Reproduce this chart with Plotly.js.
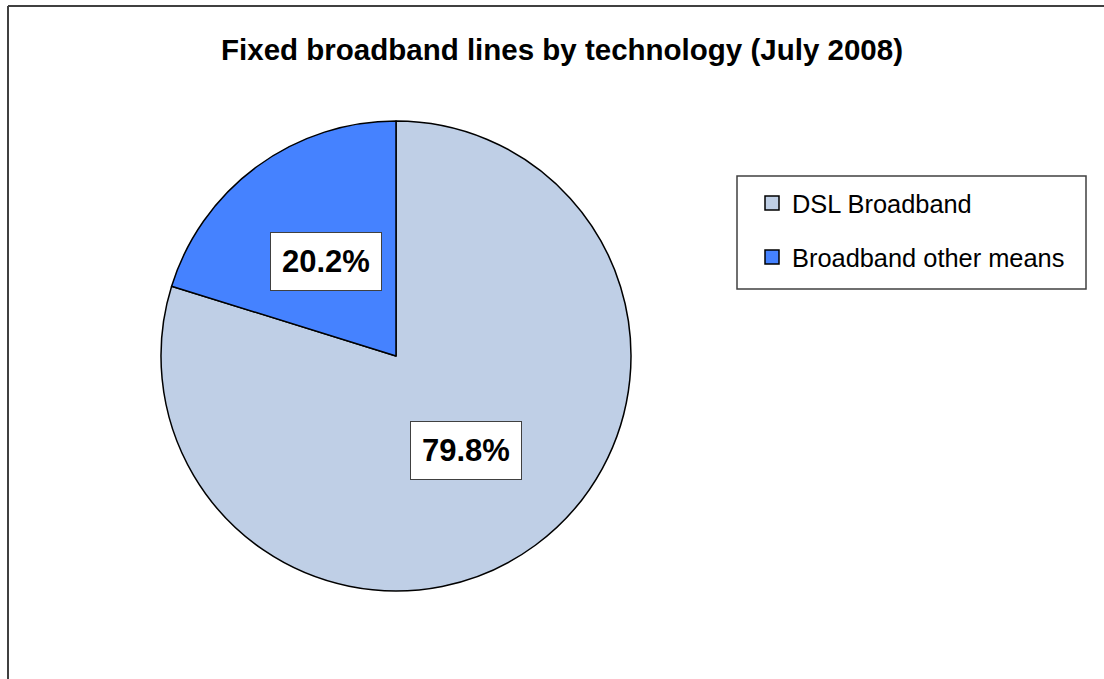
<!DOCTYPE html>
<html>
<head>
<meta charset="utf-8">
<script src="https://cdn.plot.ly/plotly-3.0.1.min.js"></script>
<style>
  html, body { margin: 0; padding: 0; background: #ffffff; }
  #chart { width: 1104px; height: 679px; }
</style>
</head>
<body>
<div id="chart"></div>
<script>
// ---- data ----
const labels = ["DSL Broadband", "Broadband other means"];
const values = [79.8, 20.2];
const sliceColors = ["#BFCFE6", "#4582FF"];
const chartTitle = "Fixed broadband lines by technology (July 2008)";

// ---- layout constants (pixels) ----
const W = 1104, H = 679;
const cx = 396, cy = 356, R = 235;   // pie centre and radius in page pixels
const FONT = "Liberation Sans, Arial, Helvetica, sans-serif";

const total = values.reduce((a, b) => a + b, 0);

// percentage labels at half radius on each slice bisector (clockwise from 12 o'clock)
const annotations = [];
let cum = 0;
values.forEach((v, i) => {
  const mid = (cum + v / 2) / total * 2 * Math.PI;
  cum += v;
  const px = cx + 0.5 * R * Math.sin(mid);
  const py = cy - 0.5 * R * Math.cos(mid);
  annotations.push({
    x: px / W, y: 1 - py / H, xref: "paper", yref: "paper",
    xanchor: "center", yanchor: "middle", showarrow: false,
    text: (v / total * 100).toFixed(1) + "%",
    font: { family: FONT, size: 31, color: "#000000", weight: "bold" },
    bgcolor: "#ffffff", bordercolor: "#404040", borderwidth: 1, borderpad: 11
  });
});

const pieTrace = {
  type: "pie",
  labels: labels,
  values: values,
  sort: false,
  direction: "clockwise",
  rotation: 0,
  textinfo: "none",
  hoverinfo: "label+percent",
  showlegend: false,
  marker: { colors: sliceColors, line: { color: "#000000", width: 1.5 } },
  domain: { x: [(cx - R) / W, (cx + R) / W], y: [1 - (cy + R) / H, 1 - (cy - R) / H] }
};

// legend entries (one per slice, same names and colours as the pie)
const legendTraces = labels.map((lab, i) => ({
  type: "scatter", mode: "markers",
  x: [null], y: [null],
  name: lab, legendgroup: "g" + i, showlegend: true,
  hoverinfo: "skip",
  marker: { symbol: "square", size: 14, color: sliceColors[i], line: { color: "#000000", width: 1.5 } }
}));

const layout = {
  width: W, height: H,
  margin: { l: 0, r: 0, t: 0, b: 0 },
  paper_bgcolor: "#ffffff",
  plot_bgcolor: "rgba(0,0,0,0)",
  font: { family: FONT, color: "#000000" },
  xaxis: { visible: false, showgrid: false, zeroline: false },
  yaxis: { visible: false, showgrid: false, zeroline: false },
  title: {
    text: chartTitle,
    font: { family: FONT, size: 29.5, weight: "bold", color: "#000000" },
    x: 562 / W, xanchor: "center", xref: "paper",
    y: 1 - 50 / H, yanchor: "middle", yref: "paper"
  },
  showlegend: true,
  legend: {
    x: 752 / W, xanchor: "left", y: 1 - 180 / H, yanchor: "top",
    bgcolor: "rgba(0,0,0,0)", borderwidth: 0,
    font: { family: FONT, size: 25.4, color: "#000000" },
    traceorder: "grouped", tracegroupgap: 18
  },
  annotations: annotations,
  shapes: [
    // chart frame (top and left edges)
    { type: "line", xref: "paper", yref: "paper", x0: 8 / W, x1: 1, y0: 1 - 6 / H, y1: 1 - 6 / H,
      line: { color: "#404040", width: 2 } },
    { type: "line", xref: "paper", yref: "paper", x0: 8 / W, x1: 8 / W, y0: 0, y1: 1 - 6 / H,
      line: { color: "#404040", width: 2 } },
    // legend box
    { type: "rect", xref: "paper", yref: "paper", layer: "below",
      x0: 737 / W, x1: 1086 / W, y0: 1 - 289 / H, y1: 1 - 176 / H,
      line: { color: "#404040", width: 1.5 }, fillcolor: "#ffffff" }
  ]
};

Plotly.newPlot("chart", [pieTrace].concat(legendTraces), layout, { displayModeBar: false, staticPlot: true });
</script>
</body>
</html>
